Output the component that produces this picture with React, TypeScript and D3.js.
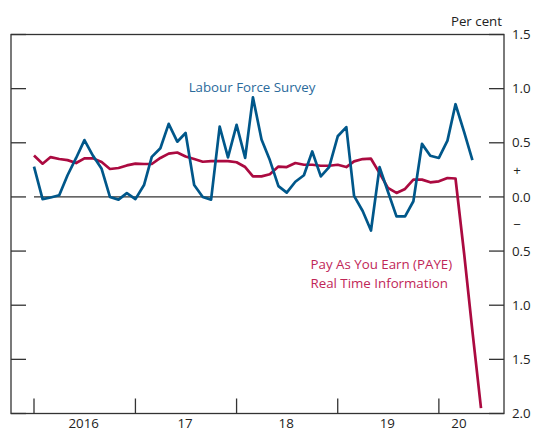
import React from 'react';
import * as d3 from 'd3';

// monthly readings, first point is Jan 2016
const startYear = 2016;

const lfsValues = [
  0.28, -0.02, -0.005, 0.015, 0.2, 0.36, 0.525, 0.38, 0.26, 0.0, -0.025, 0.035,
  -0.02, 0.11, 0.37, 0.45, 0.675, 0.51, 0.59, 0.11, 0.0, -0.025, 0.65, 0.365,
  0.665, 0.36, 0.92, 0.53, 0.34, 0.1, 0.04, 0.14, 0.2, 0.42, 0.19, 0.275,
  0.56, 0.645, 0.01, -0.13, -0.31, 0.275, 0.05, -0.18, -0.18, -0.04, 0.49, 0.38,
  0.36, 0.52, 0.856, 0.6, 0.34,
];

const payeValues = [
  0.383, 0.307, 0.368, 0.35, 0.34, 0.313, 0.356, 0.356, 0.322, 0.258, 0.267, 0.291,
  0.307, 0.304, 0.304, 0.36, 0.4, 0.41, 0.374, 0.35, 0.325, 0.33, 0.33, 0.33,
  0.32, 0.276, 0.19, 0.19, 0.21, 0.28, 0.276, 0.313, 0.297, 0.297, 0.288, 0.288,
  0.297, 0.276, 0.328, 0.35, 0.353, 0.22, 0.083, 0.037, 0.074, 0.16, 0.16, 0.135,
  0.144, 0.175, 0.17, -0.52, -1.24, -1.95,
];

const yTicks = [1.5, 1.0, 0.5, 0, -0.5, -1.0, -1.5, -2.0];
const years = [2016, 2017, 2018, 2019, 2020];
const yearLabels = ['2016', '17', '18', '19', '20'];

const W = 534;
const H = 432;
const box = { left: 11, right: 504, top: 34.5, bottom: 413.5 };
const tickLen = 15;

const font = '"Open Sans", "Noto Sans", sans-serif';
const fs = 13.3;
const axisColor = '#333';
const blue = '#00578a';
const blueText = '#2a6a9b';
const red = '#ab0a40';
const redText = '#bf2657';

const monthDate = (i: number) => new Date(startYear, i, 1);

export default function App() {
  const x = d3
    .scaleTime()
    .domain([new Date(2015, 9, 10), new Date(2020, 7, 23)])
    .range([box.left, box.right]);
  const y = d3.scaleLinear().domain([1.5, -2]).range([box.top, box.bottom]);

  const line = d3
    .line<number>()
    .x((_, i) => x(monthDate(i)))
    .y((d) => y(d));

  const lastDate = monthDate(Math.max(lfsValues.length, payeValues.length) - 1);
  const firstX = x(monthDate(0));
  const lastX = x(lastDate);

  return (
    <svg
      width={W}
      height={H}
      style={{ position: 'absolute', left: 0, top: 0, fontFamily: font }}
    >
      {/* frame */}
      <rect
        x={box.left}
        y={box.top}
        width={box.right - box.left}
        height={box.bottom - box.top}
        fill="none"
        stroke={axisColor}
        strokeWidth={1.3}
      />

      {/* y ticks, both sides, pointing inwards */}
      {yTicks.map((v) => (
        <g key={v}>
          <line x1={box.left} x2={box.left + tickLen} y1={y(v)} y2={y(v)} stroke={axisColor} strokeWidth={1.3} />
          <line x1={box.right - tickLen} x2={box.right} y1={y(v)} y2={y(v)} stroke={axisColor} strokeWidth={1.3} />
          <text x={box.right + 8} y={y(v)} dy="0.35em" fontSize={fs} fill="#222">
            {Math.abs(v).toFixed(1)}
          </text>
        </g>
      ))}

      <text x={517} y={y(0.25)} dy="0.35em" fontSize={fs} fill="#222" textAnchor="middle">+</text>
      <text x={517} y={y(-0.25)} dy="0.35em" fontSize={fs} fill="#222" textAnchor="middle">−</text>

      <text x={502} y={26} fontSize={fs} fill="#222" textAnchor="end">Per cent</text>

      {/* zero line over the data range */}
      <line x1={firstX} x2={lastX} y1={y(0)} y2={y(0)} stroke={axisColor} strokeWidth={1.3} />

      {/* year ticks and labels */}
      {years.map((yr, i) => {
        const x0 = x(new Date(yr, 0, 1));
        const next = new Date(yr + 1, 0, 1);
        const x1 = x(next < lastDate ? next : lastDate);
        return (
          <g key={yr}>
            <line x1={x0} x2={x0} y1={box.bottom} y2={box.bottom - tickLen} stroke={axisColor} strokeWidth={1.3} />
            <text x={(x0 + x1) / 2 - 1} y={428} fontSize={fs} fill="#222" textAnchor="middle">
              {yearLabels[i]}
            </text>
          </g>
        );
      })}

      {/* series */}
      <path d={line(payeValues) || ''} fill="none" stroke={red} strokeWidth={2.7} strokeLinejoin="round" />
      <path d={line(lfsValues) || ''} fill="none" stroke={blue} strokeWidth={2.7} strokeLinejoin="round" />

      {/* annotations */}
      <text x={252} y={91.5} fontSize={fs} fill={blueText} textAnchor="middle">Labour Force Survey</text>
      <text x={310.5} y={268.5} fontSize={fs} fill={redText}>Pay As You Earn (PAYE)</text>
      <text x={310.5} y={288} fontSize={fs} fill={redText}>Real Time Information</text>
    </svg>
  );
}
